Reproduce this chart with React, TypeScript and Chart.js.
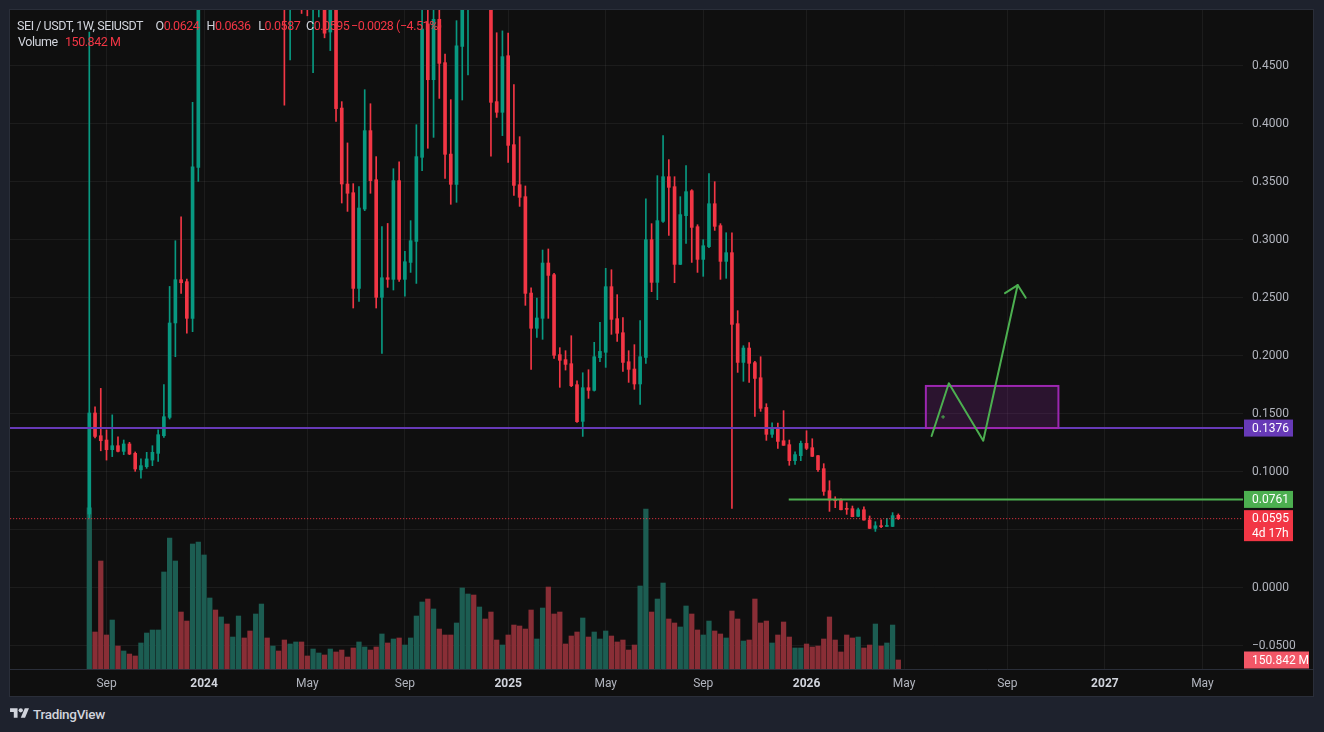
import React, { useEffect, useRef } from "react";
import { Chart, registerables } from "chart.js";

Chart.register(...registerables);

// Weekly candles, bar index 0 = week of 14 Aug 2023
const opens = [
  0.0635, 0.1506, 0.131, 0.1273, 0.119, 0.1224, 0.1175, 0.1239, 0.1158, 0.1015,
  0.1043, 0.11, 0.1158, 0.131, 0.1468, 0.2282, 0.2655, 0.2638, 0.2322, 0.3623,
  0.58, 0.77, 0.78, 0.66, 0.7, 0.56, 0.63, 0.72, 0.68, 0.64,
  0.78, 0.84, 0.74, 0.78, 0.63, 0.53, 0.58, 0.62, 0.55, 0.52,
  0.54, 0.57, 0.479, 0.52, 0.4135, 0.348, 0.3405, 0.258, 0.3264, 0.394,
  0.3517, 0.2503, 0.2672, 0.2658, 0.3509, 0.2658, 0.2804, 0.2985, 0.371, 0.486,
  0.4379, 0.49, 0.4526, 0.3738, 0.3477, 0.4666, 0.55, 0.62, 0.58, 0.64,
  0.55, 0.419, 0.4098, 0.4586, 0.3819, 0.3474, 0.3371, 0.254, 0.2236, 0.2322,
  0.2799, 0.2698, 0.2009, 0.1966, 0.1931, 0.175, 0.1434, 0.1724, 0.1701, 0.1983,
  0.2029, 0.2595, 0.2319, 0.2198, 0.1948, 0.1885, 0.1756, 0.1985, 0.3, 0.2632,
  0.3158, 0.3543, 0.3457, 0.2787, 0.3207, 0.3422, 0.3112, 0.283, 0.294, 0.331,
  0.3121, 0.2813, 0.2888, 0.2276, 0.1942, 0.2066, 0.194, 0.181, 0.1554, 0.1322,
  0.1368, 0.1267, 0.1233, 0.1095, 0.1138, 0.1244, 0.1207, 0.1138, 0.1026, 0.0836,
  0.0759, 0.0756, 0.0684, 0.0681, 0.0615, 0.0672, 0.0583, 0.0511, 0.0534, 0.0528,
  0.0528, 0.0624,
];
const highs = [
  0.479, 0.156, 0.1718, 0.136, 0.149, 0.13, 0.1273, 0.1253, 0.117, 0.111,
  0.1167, 0.1224, 0.136, 0.175, 0.2597, 0.2991, 0.3198, 0.266, 0.4184, 0.62,
  0.85, 0.8, 0.8, 0.74, 0.72, 0.66, 0.76, 0.76, 0.72, 0.82,
  0.87, 0.86, 0.82, 0.8, 0.66, 0.62, 0.66, 0.65, 0.58, 0.58,
  0.6, 0.6, 0.55, 0.54, 0.419, 0.3834, 0.3483, 0.3457, 0.4293, 0.4172,
  0.3716, 0.3112, 0.314, 0.3612, 0.3672, 0.2899, 0.3164, 0.3991, 0.52, 0.53,
  0.52, 0.51, 0.46, 0.4207, 0.4888, 0.6, 0.68, 0.72, 0.7, 0.66,
  0.58, 0.4784, 0.48, 0.478, 0.4336, 0.3888, 0.3463, 0.2584, 0.2497, 0.2911,
  0.292, 0.271, 0.2069, 0.2043, 0.2172, 0.1784, 0.1853, 0.1879, 0.2115, 0.2287,
  0.2753, 0.2741, 0.2526, 0.2328, 0.2043, 0.2095, 0.2302, 0.3353, 0.3138, 0.3552,
  0.3897, 0.369, 0.3543, 0.3371, 0.3638, 0.3431, 0.3129, 0.3, 0.3569, 0.35,
  0.3138, 0.306, 0.306, 0.2388, 0.2086, 0.2112, 0.1951, 0.1991, 0.1586, 0.1422,
  0.142, 0.1526, 0.1273, 0.1172, 0.1264, 0.1353, 0.1284, 0.114, 0.1069, 0.0922,
  0.0784, 0.0767, 0.0733, 0.0704, 0.0687, 0.0698, 0.0618, 0.0569, 0.0586, 0.0597,
  0.0647, 0.0636,
];
const lows = [
  0.06, 0.129, 0.118, 0.11, 0.113, 0.117, 0.1147, 0.1147, 0.1003, 0.0943,
  0.1029, 0.1052, 0.1089, 0.1296, 0.1454, 0.1991, 0.2537, 0.2193, 0.2207, 0.3503,
  0.55, 0.62, 0.6, 0.6, 0.53, 0.54, 0.6, 0.64, 0.62, 0.62,
  0.72, 0.7, 0.7, 0.6, 0.416, 0.455, 0.52, 0.495, 0.493, 0.444,
  0.492, 0.474, 0.463, 0.402, 0.3316, 0.3244, 0.2411, 0.2468, 0.325, 0.34,
  0.2411, 0.202, 0.2589, 0.2566, 0.264, 0.2514, 0.2718, 0.2623, 0.3595, 0.3788,
  0.3882, 0.4218, 0.3529, 0.3305, 0.3322, 0.4204, 0.442, 0.52, 0.54, 0.51,
  0.372, 0.4054, 0.3897, 0.3666, 0.3382, 0.3287, 0.2434, 0.1882, 0.2158, 0.2141,
  0.2322, 0.1977, 0.1727, 0.1876, 0.1733, 0.1425, 0.1304, 0.1632, 0.1695, 0.1948,
  0.1899, 0.2184, 0.2123, 0.1865, 0.177, 0.171, 0.158, 0.1934, 0.2552, 0.2483,
  0.3149, 0.3037, 0.2629, 0.2785, 0.2968, 0.2804, 0.2718, 0.2684, 0.2931, 0.308,
  0.2658, 0.2667, 0.0684, 0.1856, 0.1779, 0.177, 0.1477, 0.152, 0.127, 0.1296,
  0.1201, 0.1227, 0.1055, 0.1063, 0.1095, 0.119, 0.113, 0.1003, 0.0796, 0.0658,
  0.069, 0.067, 0.0632, 0.0611, 0.0612, 0.0581, 0.051, 0.0485, 0.0517, 0.0528,
  0.0526, 0.0587,
];
const closes = [
  0.1506, 0.1304, 0.1267, 0.119, 0.1224, 0.1175, 0.1239, 0.1152, 0.1023, 0.1052,
  0.111, 0.1167, 0.1319, 0.1474, 0.2282, 0.2655, 0.2629, 0.2322, 0.3629, 0.58,
  0.77, 0.78, 0.66, 0.7, 0.56, 0.63, 0.72, 0.68, 0.64, 0.78,
  0.84, 0.74, 0.78, 0.63, 0.53, 0.58, 0.62, 0.55, 0.52, 0.54,
  0.57, 0.478, 0.52, 0.413, 0.348, 0.34, 0.258, 0.3273, 0.394, 0.3509,
  0.2503, 0.2672, 0.2658, 0.3509, 0.2658, 0.281, 0.2991, 0.3716, 0.4816, 0.4379,
  0.49, 0.452, 0.3736, 0.3477, 0.4672, 0.55, 0.62, 0.58, 0.64, 0.55,
  0.4184, 0.4098, 0.4578, 0.3813, 0.3468, 0.3365, 0.2537, 0.2236, 0.2325, 0.2799,
  0.2692, 0.2003, 0.196, 0.1925, 0.1741, 0.1431, 0.1724, 0.1701, 0.1991, 0.2037,
  0.2595, 0.2313, 0.2193, 0.1942, 0.1882, 0.1756, 0.1991, 0.3, 0.2632, 0.3164,
  0.3543, 0.3451, 0.2787, 0.3216, 0.3414, 0.3106, 0.283, 0.2948, 0.331, 0.3115,
  0.2813, 0.2888, 0.227, 0.1942, 0.2066, 0.1934, 0.1804, 0.1546, 0.1322, 0.1365,
  0.1261, 0.1227, 0.1095, 0.1147, 0.1244, 0.1201, 0.1132, 0.1017, 0.083, 0.0756,
  0.075, 0.0672, 0.0675, 0.0612, 0.0672, 0.0583, 0.0511, 0.0534, 0.0526, 0.0534,
  0.0621, 0.0595,
];
// Weekly volume, millions of SEI
const volumes = [
  2700, 620, 1810, 570, 821, 385, 302, 251, 218, 436,
  603, 654, 654, 1626, 2196, 1810, 955, 804, 2095, 2129,
  1911, 1190, 989, 872, 754, 536, 888, 520, 637, 922,
  1089, 520, 385, 302, 486, 419, 453, 453, 218, 335,
  268, 235, 335, 285, 318, 201, 352, 453, 369, 318,
  369, 587, 436, 503, 520, 402, 520, 888, 1123, 1173,
  1006, 670, 570, 570, 771, 1358, 1257, 1240, 1039, 838,
  955, 486, 402, 570, 737, 721, 670, 989, 503, 1022,
  1374, 922, 955, 419, 553, 620, 855, 536, 620, 503,
  637, 553, 453, 486, 318, 402, 1391, 2682, 955, 1173,
  1441, 838, 771, 704, 1056, 922, 654, 570, 804, 637,
  587, 520, 972, 838, 469, 486, 1173, 771, 804, 436,
  570, 788, 536, 352, 352, 419, 369, 385, 503, 872,
  486, 285, 570, 520, 536, 352, 402, 754, 385, 436,
  737, 150.842,
];

// Time axis: bar index of first weekly bar of each labelled month
const timeTickBars = [3, 20, 38, 55, 73, 90, 107, 125, 142, 160, 177, 194];
const timeTickLabels = ["Sep", "2024", "May", "Sep", "2025", "May", "Sep", "2026", "May", "Sep", "2027", "May"];
const priceTicks = [-0.05, 0, 0.05, 0.1, 0.15, 0.2, 0.25, 0.3, 0.35, 0.4, 0.45];
const xRange = [-13.82, 201.07];
const priceRange = [-0.0701, 0.498];
const volumeMax = 11045;

// Drawings
const supportLevel = 0.1376;
const targetLevel = 0.0761;
const targetStartBar = 121.9;
const lastPrice = 0.0595;
const countdown = "4d 17h";
const lastVolumeText = "150.842 M";
const zoneBars = [145.8, 168.9];
const zonePrices = [0.1376, 0.1739];
const pathBars = [146.8, 149.8, 155.8, 161.8];
const pathPrices = [0.1308, 0.1762, 0.1267, 0.2609];
const markerBar = 148.8;
const markerPrice = 0.1472;

// Legend texts
const symbolText = "SEI / USDT, 1W, SEIUSDT";
const ohlcLabels = ["O", "H", "L", "C"];
const ohlcValues = ["0.0624", "0.0636", "0.0587", "0.0595"];
const changeText = "\u22120.0028 (\u22124.51%)";

const GREEN = "#089981";
const RED = "#f23645";
const VGREEN = "#1c5d52";
const VRED = "#892e36";
const GRID = "rgba(242,242,242,0.06)";
const AXIS_TEXT = "#b2b5be";

export default function App() {
  const ref = useRef<HTMLCanvasElement>(null);

  useEffect(() => {
    document.body.style.margin = "0";
    const canvas = ref.current;
    if (!canvas) return;
    Chart.defaults.font.family = "Roboto";

    const idx = closes.map((_, i) => i);
    const up = idx.map((i) => closes[i] >= opens[i]);

    const overlay = {
      id: "overlay",
      afterDatasetsDraw(chart: any) {
        const { ctx, chartArea: a, scales } = chart;
        const xs = scales.x;
        const ys = scales.y;
        ctx.save();
        ctx.beginPath();
        ctx.rect(a.left, a.top, a.right - a.left, a.bottom - a.top);
        ctx.clip();
        const x1 = xs.getPixelForValue(zoneBars[0]);
        const x2 = xs.getPixelForValue(zoneBars[1]);
        const y1 = ys.getPixelForValue(zonePrices[1]);
        const y2 = ys.getPixelForValue(zonePrices[0]);
        ctx.fillStyle = "rgba(156,39,176,0.2)";
        ctx.fillRect(x1, y1, x2 - x1, y2 - y1);
        ctx.strokeStyle = "#9c27b0";
        ctx.lineWidth = 2;
        ctx.strokeRect(x1, y1, x2 - x1, y2 - y1);
        ctx.strokeStyle = "#4caf50";
        ctx.lineWidth = 2;
        ctx.lineJoin = "round";
        ctx.lineCap = "round";
        ctx.beginPath();
        const pts = pathBars.map((b, k) => [xs.getPixelForValue(b), ys.getPixelForValue(pathPrices[k])]);
        pts.forEach((p, k) => (k ? ctx.lineTo(p[0], p[1]) : ctx.moveTo(p[0], p[1])));
        ctx.stroke();
        const [tx, ty] = pts[pts.length - 1];
        const [px, py] = pts[pts.length - 2];
        const back = Math.atan2(py - ty, px - tx);
        const L = 15;
        ctx.beginPath();
        ctx.moveTo(tx + L * Math.cos(back - Math.PI / 4), ty + L * Math.sin(back - Math.PI / 4));
        ctx.lineTo(tx, ty);
        ctx.lineTo(tx + L * Math.cos(back + Math.PI / 4), ty + L * Math.sin(back + Math.PI / 4));
        ctx.stroke();
        const mx = xs.getPixelForValue(markerBar);
        const my = ys.getPixelForValue(markerPrice);
        ctx.lineWidth = 1;
        ctx.beginPath();
        ctx.moveTo(mx - 1.5, my);
        ctx.lineTo(mx + 1.5, my);
        ctx.moveTo(mx, my - 1.5);
        ctx.lineTo(mx, my + 1.5);
        ctx.stroke();
        ctx.restore();
      },
      afterDraw(chart: any) {
        const { ctx, chartArea: a, scales } = chart;
        const ys = scales.y;
        const yv = scales.yv;
        ctx.save();
        ctx.strokeStyle = "#2a2e39";
        ctx.lineWidth = 1;
        ctx.beginPath();
        ctx.moveTo(0, Math.round(a.bottom) + 0.5);
        ctx.lineTo(chart.width, Math.round(a.bottom) + 0.5);
        ctx.stroke();
        ctx.font = "12px Roboto";
        ctx.textAlign = "left";
        ctx.textBaseline = "middle";
        const tag = (y: number, bg: string, lines: string[], w: number) => {
          const h = lines.length === 1 ? 17 : 31;
          ctx.fillStyle = bg;
          ctx.fillRect(a.right + 1, y - 8.5, w, h);
          ctx.fillStyle = "#ffffff";
          lines.forEach((t, k) => ctx.fillText(t, a.right + 9, y + 0.5 + k * 15));
        };
        tag(ys.getPixelForValue(supportLevel), "#673ab7", [supportLevel.toFixed(4)], 49);
        tag(ys.getPixelForValue(targetLevel), "#4caf50", [targetLevel.toFixed(4)], 49);
        tag(ys.getPixelForValue(lastPrice), RED, [lastPrice.toFixed(4), countdown], 49);
        tag(yv.getPixelForValue(volumes[volumes.length - 1]), "#f25767", [lastVolumeText], 65);
        ctx.restore();
      },
    };

    const lineDs = (y: number, from: number, color: string, width: number, dash: number[] = []) => ({
      type: "line" as const,
      data: [
        { x: from, y },
        { x: 260, y },
      ],
      borderColor: color,
      borderWidth: width,
      borderDash: dash,
      pointRadius: 0,
      yAxisID: "y",
      clip: 0,
      order: 1,
    });

    const chart = new Chart(canvas, {
      type: "bar",
      data: {
        datasets: [
          {
            type: "bar",
            data: idx.map((i) => ({ x: i, y: volumes[i] })),
            backgroundColor: idx.map((i) => (up[i] ? VGREEN : VRED)),
            barThickness: 4.6,
            grouped: false,
            yAxisID: "yv",
            clip: 0,
            order: 6,
          } as any,
          {
            type: "bar",
            data: idx.map((i) => ({ x: i, y: [lows[i], highs[i]] })),
            backgroundColor: idx.map((i) => (up[i] ? GREEN : RED)),
            barThickness: 1,
            grouped: false,
            yAxisID: "y",
            clip: 0,
            order: 5,
          } as any,
          {
            type: "bar",
            data: idx.map((i) => ({ x: i, y: [opens[i], closes[i]] })),
            backgroundColor: idx.map((i) => (up[i] ? GREEN : RED)),
            barThickness: 3,
            minBarLength: 1,
            grouped: false,
            yAxisID: "y",
            clip: 0,
            order: 4,
          } as any,
          lineDs(lastPrice, -30, RED, 1, [1, 2]),
          lineDs(supportLevel, -30, "#673ab7", 2),
          lineDs(targetLevel, targetStartBar, "#4caf50", 2),
        ] as any,
      },
      options: {
        animation: false,
        responsive: true,
        maintainAspectRatio: false,
        layout: { padding: 0 },
        plugins: { legend: { display: false }, tooltip: { enabled: false } },
        events: [],
        scales: {
          x: {
            type: "linear",
            min: xRange[0],
            max: xRange[1],
            offset: false,
            position: "bottom",
            grid: { color: GRID, drawTicks: false, offset: false },
            border: { display: false },
            afterBuildTicks: (s: any) => {
              s.ticks = timeTickBars.map((v) => ({ value: v }));
            },
            afterFit: (s: any) => {
              s.height = 27;
              s.paddingLeft = 0;
              s.paddingRight = 0;
            },
            ticks: {
              autoSkip: false,
              maxRotation: 0,
              padding: 8,
              color: (c: any) => {
                const k = timeTickBars.indexOf(c.tick?.value);
                return k >= 0 && /^\d{4}$/.test(timeTickLabels[k]) ? "#d1d4dc" : AXIS_TEXT;
              },
              font: (c: any) => {
                const k = timeTickBars.indexOf(c.tick?.value);
                const yr = k >= 0 && /^\d{4}$/.test(timeTickLabels[k]);
                return { family: "Roboto", size: 12, weight: yr ? "bold" : "normal" };
              },
              callback: (v: any) => {
                const k = timeTickBars.indexOf(Number(v));
                return k >= 0 ? timeTickLabels[k] : "";
              },
            },
          },
          y: {
            type: "linear",
            position: "right",
            min: priceRange[0],
            max: priceRange[1],
            grid: { color: GRID, drawTicks: false },
            border: { display: false },
            afterBuildTicks: (s: any) => {
              s.ticks = priceTicks.map((v) => ({ value: v }));
            },
            afterFit: (s: any) => {
              s.width = 70;
              s.paddingTop = 0;
              s.paddingBottom = 0;
            },
            ticks: {
              padding: 9,
              crossAlign: "near",
              color: AXIS_TEXT,
              font: { family: "Roboto", size: 12 },
              callback: (v: any) => {
                const n = Number(v);
                const s = Math.abs(n).toFixed(4);
                return n < 0 ? "\u2212" + s : s;
              },
            },
          },
          yv: {
            type: "linear",
            display: false,
            min: 0,
            max: volumeMax,
          },
        },
      } as any,
      plugins: [overlay],
    });

    return () => chart.destroy();
  }, []);

  const red = "#f23645";
  const leg = { position: "absolute" as const, whiteSpace: "nowrap" as const };
  const ohlcLeft = [155.5, 206.5, 258.3, 306];
  const lineStyle = {
    position: "absolute" as const,
    left: 0,
    height: 17,
    lineHeight: "17px",
    fontSize: 12.5,
    letterSpacing: -0.45,
    color: "#d1d4dc",
    width: 600,
  };

  return (
    <div
      style={{
        position: "relative",
        width: 1324,
        height: 732,
        background: "#1e222d",
        overflow: "hidden",
        fontFamily: "Roboto, sans-serif",
      }}
    >
      <div
        style={{
          position: "absolute",
          left: 9,
          top: 9,
          width: 1303,
          height: 686,
          border: "1px solid #2a2e39",
          background: "#0f0f0f",
        }}
      />
      <div style={{ position: "absolute", left: 10, top: 10, width: 1303, height: 686 }}>
        <canvas ref={ref} />
      </div>
      <div style={{ ...lineStyle, top: 16.5 }}>
        <span style={{ ...leg, left: 17 }}>{symbolText}</span>
        {ohlcLabels.map((l, k) => (
          <span key={l} style={{ ...leg, left: ohlcLeft[k] }}>
            {l}
            <span style={{ color: red }}>{ohlcValues[k]}</span>
          </span>
        ))}
        <span style={{ ...leg, left: 351, color: red }}>{changeText}</span>
      </div>
      <div style={{ ...lineStyle, top: 32.9, width: 300 }}>
        <span style={{ ...leg, left: 18 }}>Volume</span>
        <span style={{ ...leg, left: 65, color: red }}>{lastVolumeText}</span>
      </div>
      <svg
        style={{ position: "absolute", left: 10, top: 706.4 }}
        width={19.4}
        height={15}
        viewBox="0 0 36 28"
        fill="#d1d4dc"
      >
        <path d="M14 22H7V11H0V4h14v18zM28 22h-8l7.5-18h8L28 22z" />
        <circle cx="20" cy="8" r="4" />
      </svg>
      <div
        style={{
          position: "absolute",
          left: 33,
          top: 705,
          fontSize: 13.5,
          lineHeight: "18px",
          fontWeight: 500,
          letterSpacing: -0.3,
          color: "#d1d4dc",
        }}
      >
        TradingView
      </div>
    </div>
  );
}
